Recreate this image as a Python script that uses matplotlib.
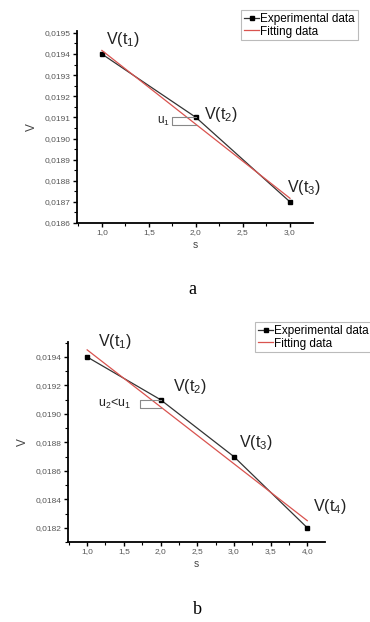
import matplotlib
matplotlib.use('Agg')
import matplotlib.pyplot as plt
from matplotlib.ticker import FuncFormatter, MultipleLocator

# panel a data
s_a = [1.0, 2.0, 3.0]
v_a = [0.0194, 0.0191, 0.0187]
fit_a = [0.019417, 0.019067, 0.018717]
labels_a = ['V(t$_1$)', 'V(t$_2$)', 'V(t$_3$)']

# panel b data
s_b = [1.0, 2.0, 3.0, 4.0]
v_b = [0.0194, 0.0191, 0.0187, 0.0182]
fit_b = [0.01945, 0.01905, 0.01865, 0.01825]
labels_b = ['V(t$_1$)', 'V(t$_2$)', 'V(t$_3$)', 'V(t$_4$)']

plt.rcParams['font.family'] = ['Liberation Sans', 'DejaVu Sans']
plt.rcParams['mathtext.fontset'] = 'custom'
plt.rcParams['mathtext.rm'] = 'Liberation Sans'
plt.rcParams['mathtext.it'] = 'Liberation Sans'

fig = plt.figure(figsize=(3.7, 6.22), dpi=100)


def comma(decimals):
    return FuncFormatter(lambda v, p: f'{v:.{decimals}f}'.replace('.', ','))


def style_axes(ax, ymaj, ymin):
    for side in ['top', 'right']:
        ax.spines[side].set_visible(False)
    for side in ['left', 'bottom']:
        ax.spines[side].set_linewidth(1.3)
    ax.xaxis.set_major_locator(MultipleLocator(0.5))
    ax.xaxis.set_minor_locator(MultipleLocator(0.25))
    ax.yaxis.set_major_locator(MultipleLocator(ymaj))
    ax.yaxis.set_minor_locator(MultipleLocator(ymin))
    ax.xaxis.set_major_formatter(comma(1))
    ax.yaxis.set_major_formatter(comma(4))
    ax.tick_params(which='major', length=3, width=1, labelsize=6, labelcolor='#555555', pad=1.5)
    ax.tick_params(which='minor', length=2, width=0.8)
    ax.set_xlabel('s', fontsize=7.5, color='#444444', labelpad=3)
    ax.set_ylabel('V', fontsize=8.5, color='#444444', labelpad=5)


def draw(ax, s, v, fit, labels, offsets, legend_anchor):
    ax.plot(s, v, '-s', color='#333333', lw=0.9, ms=2.2, mfc='black', mec='black',
            label='Experimental data')
    ax.plot(s, fit, '-', color='#d9534f', lw=0.9, label='Fitting data')
    for x, y, lab, (dx, dy) in zip(s, v, labels, offsets):
        ax.annotate(lab, (x, y), xytext=(dx, dy), textcoords='offset points',
                    fontsize=11.5, color='#222222')
    leg = ax.legend(loc='upper right', bbox_to_anchor=legend_anchor,
                    bbox_transform=fig.transFigure, fontsize=8.5, handlelength=1.3,
                    handletextpad=0.1, borderpad=0.25, labelspacing=0.05,
                    fancybox=False, framealpha=1, borderaxespad=0)
    leg.get_frame().set_edgecolor('#bbbbbb')
    leg.get_frame().set_linewidth(0.8)


# panel a
ax1 = fig.add_axes([0.208, 0.6415, 0.638, 0.309])
draw(ax1, s_a, v_a, fit_a, labels_a, [(3, 7), (6, -1), (-2, 7)], (358 / 370, 1 - 10 / 622))
ax1.set_xlim(0.735, 3.245)
ax1.set_ylim(0.0186, 0.01951)
style_axes(ax1, 0.0001, 0.00005)
ax1.plot([2.0, 1.75, 1.75, 2.0], [v_a[1], v_a[1], fit_a[1] - 0.000005, fit_a[1] - 0.000005],
         color='#888888', lw=0.8)
ax1.text(1.72, fit_a[1] + 0.000015, 'u$_1$', fontsize=8.5, ha='right', va='center', color='#222222')
fig.text(192 / 370, 1 - 290 / 622, 'a', family='Liberation Serif', fontsize=13, ha='center', va='center')

# panel b
ax2 = fig.add_axes([0.184, 0.1286, 0.695, 0.3215])
draw(ax2, s_b, v_b, fit_b, labels_b, [(8, 8), (9, 6), (4, 7), (4, 12)], (372 / 370, 1 - 322 / 622))
ax2.set_xlim(0.74, 4.245)
ax2.set_ylim(0.0181, 0.019505)
style_axes(ax2, 0.0002, 0.0001)
ax2.plot([2.0, 1.72, 1.72, 2.0], [v_b[1], v_b[1], fit_b[1] - 0.000005, fit_b[1] - 0.000005],
         color='#888888', lw=0.8)
ax2.text(1.6, fit_b[1] + 0.00002, 'u$_2$<u$_1$', fontsize=9, ha='right', va='center', color='#222222')
fig.text(197 / 370, 1 - 610 / 622, 'b', family='Liberation Serif', fontsize=13, ha='center', va='center')

fig.savefig('out.png', dpi=100)
